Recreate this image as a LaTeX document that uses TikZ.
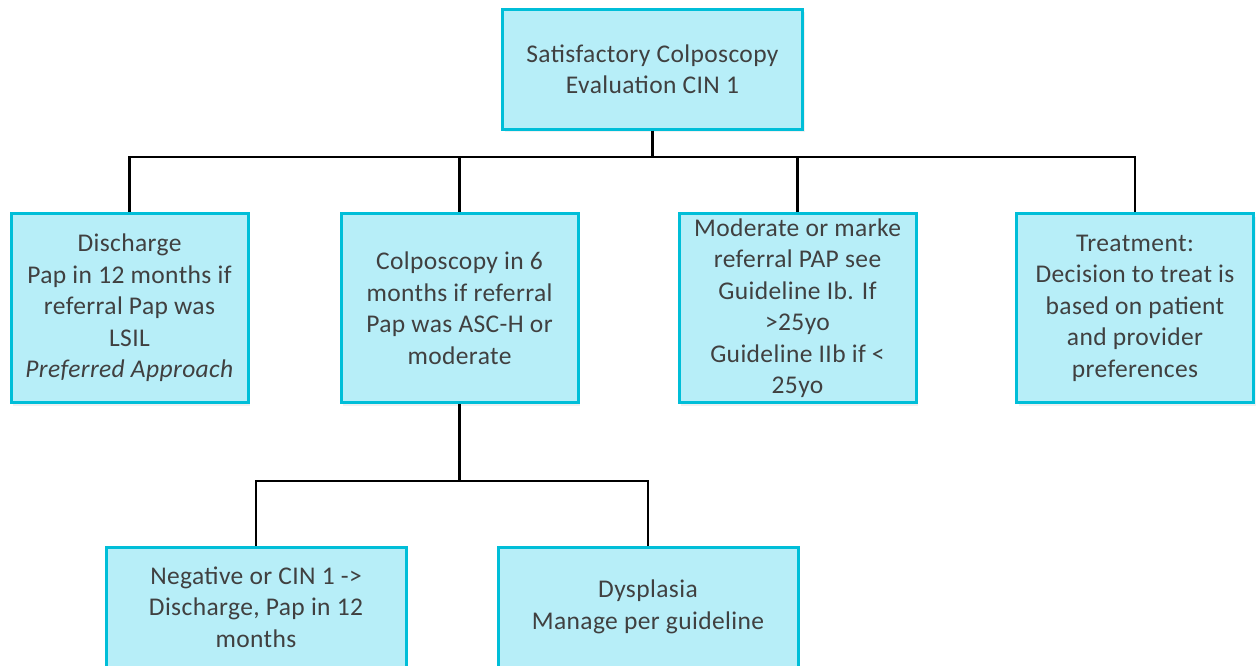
\documentclass[tikz,border=0pt]{standalone}
\usepackage{fontspec}
\setmainfont{Carlito}[LetterSpace=1.5]
\usetikzlibrary{shadows}
\definecolor{boxfill}{HTML}{B7EEF8}
\definecolor{boxline}{HTML}{00BED8}
\definecolor{txt}{HTML}{404040}
\begin{document}
\begin{tikzpicture}[x=1pt,y=-1pt,
  card/.style={draw=boxline, line width=3pt, fill=boxfill, text=txt,
    align=center, font=\fontsize{25.5}{31.5}\selectfont, inner sep=0pt,
    drop shadow={opacity=0.12, shadow xshift=2pt, shadow yshift=-3pt}},
  wide/.style={card, minimum width=300pt, minimum height=120pt},
  tall/.style={card, minimum width=237pt, minimum height=189pt},
  link/.style={line width=2.5pt, draw=black}]
\useasboundingbox (0,0) rectangle (1256,665);
\clip (0,0) rectangle (1256,665);

% top level
\node[wide] (root) at (652.5,69) {Satisfactory Colposcopy\\Evaluation CIN 1};

% second level
\node[tall] (discharge) at (129.5,308) {Discharge\\Pap in 12 months if\\referral Pap was\\LSIL\\\textit{Preferred Approach}};
\node[tall] (colpo) at (459.5,308) {Colposcopy in 6\\months if referral\\Pap was ASC-H or\\moderate};
\node[tall] (moderate) at (797.5,308) {Moderate or marke\\referral PAP see\\Guideline Ib. If\\>25yo\\Guideline IIb if <\\25yo};
\node[tall] (treat) at (1135,308) {Treatment:\\Decision to treat is\\based on patient\\and provider\\preferences};

% third level
\node[wide] (negative) at (256,607) {Negative or CIN 1 ->\\Discharge, Pap in 12\\months};
\node[wide] (dysplasia) at (648,607) {Dysplasia\\Manage per guideline};

% bus junctions
\coordinate (bus) at (652.5,157);
\coordinate (subbus) at (459.5,481);

\draw[link] (root.south) -- (bus);
\draw[link] (discharge.north) |- (bus);
\draw[link] (colpo.north) |- (bus);
\draw[link] (moderate.north) |- (bus);
\draw[link] (treat.north) |- (bus);

\draw[link] (colpo.south) -- (subbus);
\draw[link] (negative.north) |- (subbus);
\draw[link] (dysplasia.north) |- (subbus);
\end{tikzpicture}
\end{document}
